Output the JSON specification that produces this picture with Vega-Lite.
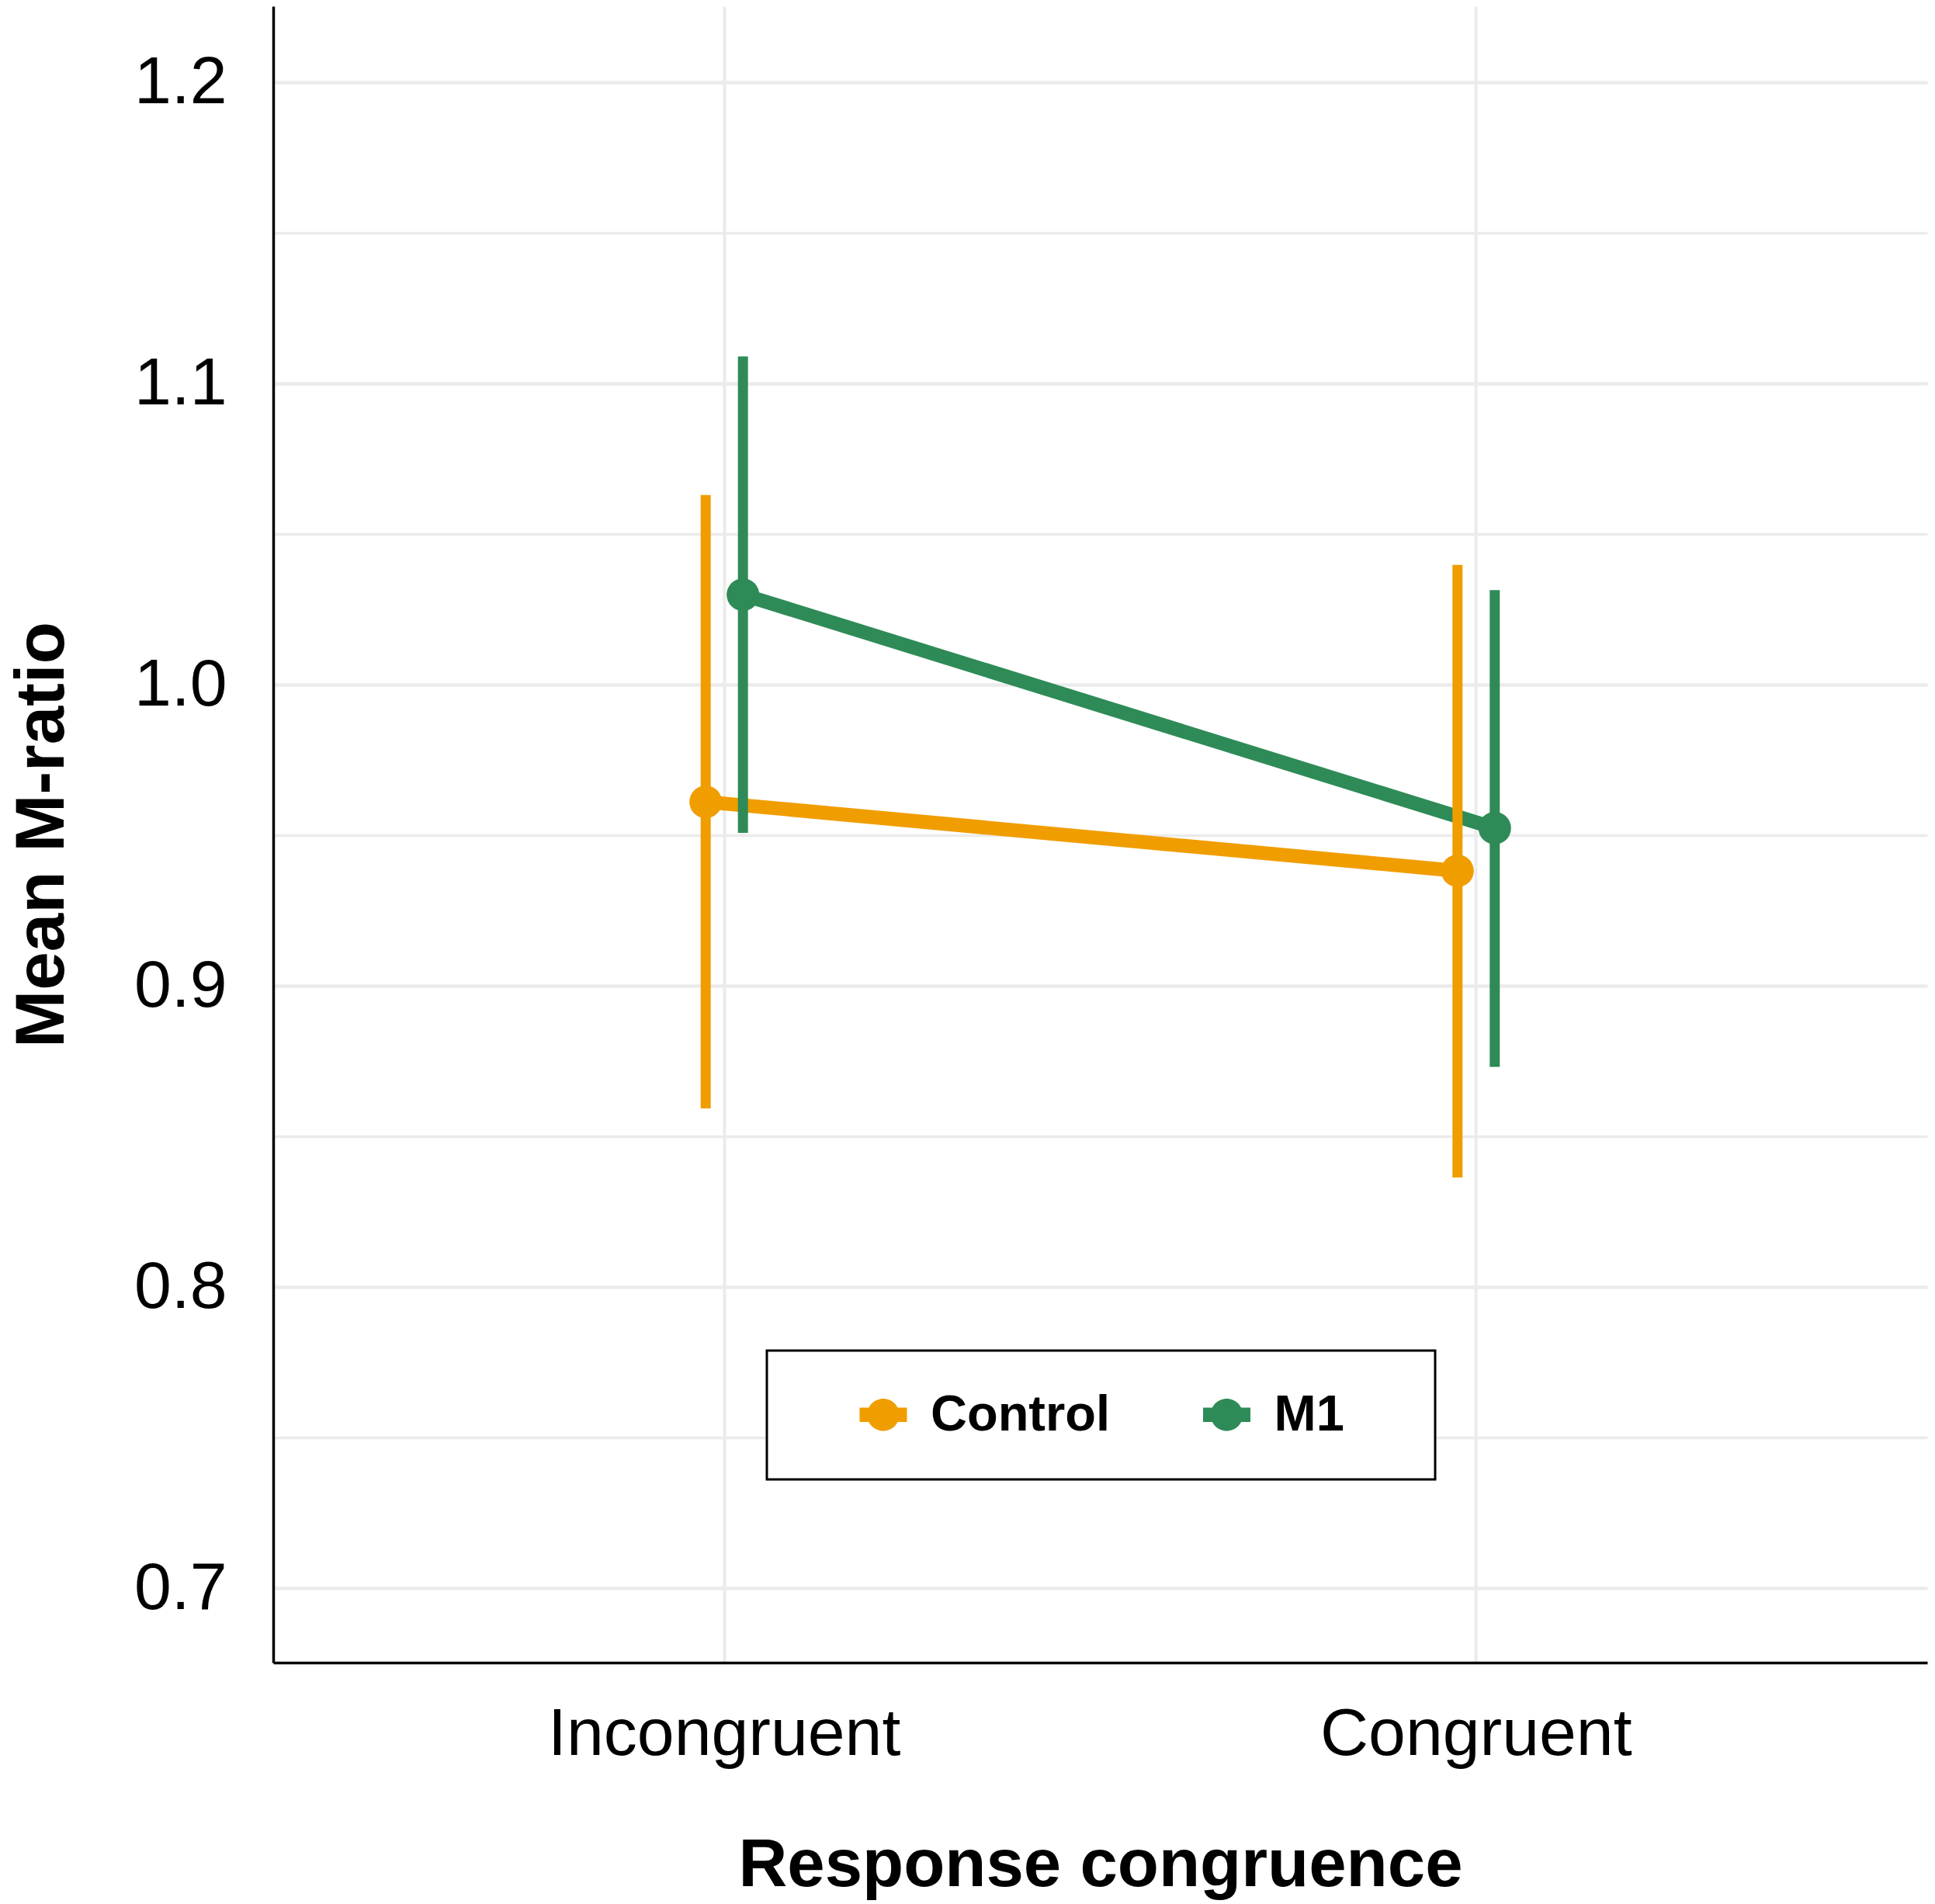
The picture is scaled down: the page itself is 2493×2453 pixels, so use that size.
{
  "$schema": "https://vega.github.io/schema/vega-lite/v6.json",
  "width": 2131,
  "height": 2134,
  "autosize": {"type": "none"},
  "padding": {"left": 352, "top": 8, "right": 10, "bottom": 311},
  "background": "white",
  "data": {
    "values": [
      {"congruence": "Incongruent", "group": "Control", "mean": 0.9611, "lower": 0.8593, "upper": 1.0630},
      {"congruence": "Incongruent", "group": "M1", "mean": 1.0299, "lower": 0.9508, "upper": 1.1090},
      {"congruence": "Congruent", "group": "Control", "mean": 0.9382, "lower": 0.8364, "upper": 1.0398},
      {"congruence": "Congruent", "group": "M1", "mean": 0.9524, "lower": 0.8731, "upper": 1.0314}
    ]
  },
  "encoding": {
    "x": {
      "field": "congruence",
      "type": "nominal",
      "sort": ["Incongruent", "Congruent"],
      "scale": {"type": "band", "paddingInner": 0.9009, "paddingOuter": 0.5505},
      "axis": {
        "title": "Response congruence",
        "titleFont": "Liberation Sans",
        "titleFontSize": 87,
        "titleFontWeight": "bold",
        "titleColor": "black",
        "titleBaseline": "alphabetic",
        "titleAlign": "center",
        "titleX": 1065.5,
        "titleY": 287,
        "labelFont": "Liberation Sans",
        "labelFontSize": 86,
        "labelColor": "black",
        "labelAngle": 0,
        "labelLimit": 0,
        "labelBaseline": "alphabetic",
        "labelPadding": 118,
        "ticks": false,
        "tickSize": 0,
        "domain": true,
        "domainColor": "black",
        "domainWidth": 3.5,
        "grid": true,
        "gridColor": "#EBEBEB",
        "gridWidth": 4,
        "bandPosition": 0.5
      }
    },
    "xOffset": {
      "field": "group",
      "type": "nominal",
      "sort": ["Control", "M1"],
      "scale": {"paddingInner": 0, "paddingOuter": 0}
    },
    "color": {
      "field": "group",
      "type": "nominal",
      "scale": {"domain": ["Control", "M1"], "range": ["#F09D00", "#2E8B57"]},
      "legend": {
        "orient": "none",
        "legendX": 636,
        "legendY": 1732,
        "direction": "horizontal",
        "title": null,
        "strokeColor": "black",
        "fillColor": "white",
        "padding": 50,
        "cornerRadius": 0,
        "symbolType": "M-1,-0.305 L1,-0.305 L1,0.305 L-1,0.305 Z M-0.68,0 A0.68,0.68 0 1,1 0.68,0 A0.68,0.68 0 1,1 -0.68,0 Z M7.14,0",
        "symbolSize": 3721,
        "symbolStrokeWidth": 0,
        "symbolOpacity": 1,
        "symbolOffset": 67.5,
        "labelOffset": 28.5,
        "labelFont": "Liberation Sans",
        "labelFontWeight": "bold",
        "labelFontSize": 65,
        "labelColor": "black",
        "labelBaseline": "middle",
        "labelLimit": 0,
        "columnPadding": 49.5,
        "encode": {"symbols": {"update": {"fill": {"scale": "color", "field": "value"}, "strokeWidth": {"value": 0}, "opacity": {"value": 1}}}}
      }
    },
    "y": {
      "field": "mean",
      "type": "quantitative",
      "title": "Mean M-ratio",
      "scale": {"domain": [0.6753, 1.2253], "zero": false, "nice": false},
      "axis": {
        "values": [0.7, 0.75, 0.8, 0.85, 0.9, 0.95, 1.0, 1.05, 1.1, 1.15, 1.2],
        "labelExpr": "abs(datum.value*10 - round(datum.value*10)) < 0.001 ? format(datum.value, '.1f') : ''",
        "title": "Mean M-ratio",
        "titleFont": "Liberation Sans",
        "titleFontWeight": "bold",
        "titleFontSize": 89,
        "titleColor": "black",
        "titleAngle": -90,
        "titleX": -271,
        "titleY": 1067,
        "titleAlign": "center",
        "titleBaseline": "alphabetic",
        "labelFont": "Liberation Sans",
        "labelFontSize": 86,
        "labelColor": "black",
        "labelPadding": 60,
        "labelAlign": "right",
        "labelBaseline": "middle",
        "labelOverlap": false,
        "labelFlush": false,
        "ticks": false,
        "tickSize": 0,
        "domain": true,
        "domainColor": "black",
        "domainWidth": 3.5,
        "grid": true,
        "gridColor": "#EBEBEB",
        "gridWidth": {"condition": {"test": "abs(datum.value*10 - round(datum.value*10)) < 0.001", "value": 4.5}, "value": 3.5}
      }
    }
  },
  "layer": [
    {
      "mark": {"type": "line", "strokeWidth": 18, "strokeCap": "butt", "opacity": 1}
    },
    {
      "mark": {"type": "rule", "strokeWidth": 13, "strokeCap": "butt", "opacity": 1},
      "encoding": {
        "y": {"field": "lower", "type": "quantitative", "title": "Mean M-ratio"},
        "y2": {"field": "upper"}
      }
    },
    {
      "mark": {"type": "point", "filled": true, "size": 1764, "opacity": 1, "strokeWidth": 0}
    }
  ],
  "config": {
    "view": {"stroke": null},
    "legend": {"strokeWidth": 3}
  }
}
